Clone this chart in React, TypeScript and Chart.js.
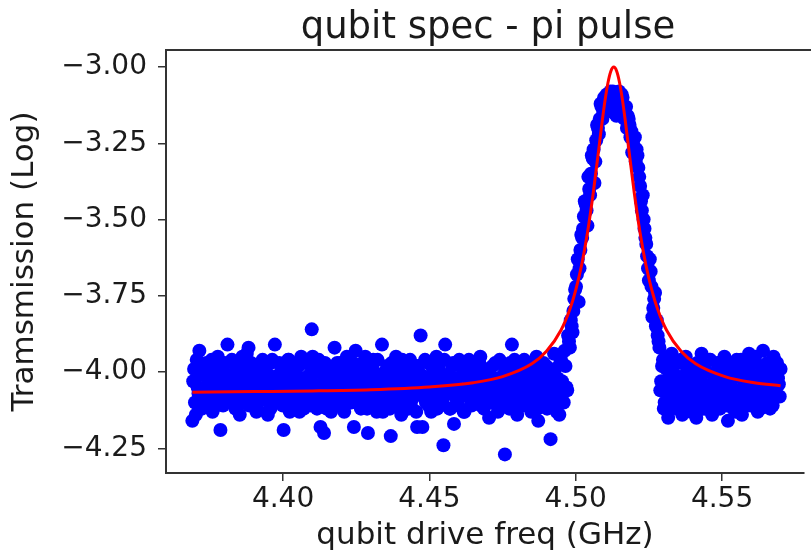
import React, { useEffect, useRef } from "react";
import { Chart, registerables } from "chart.js";

Chart.register(...registerables);

const TITLE = "qubit spec - pi pulse";
const X_LABEL = "qubit drive freq (GHz)";
const Y_LABEL = "Tramsmission (Log)";

const xTicks = [4.4, 4.45, 4.5, 4.55];
const yTicks = [-3.0, -3.25, -3.5, -3.75, -4.0, -4.25];
const xMin = 4.36;
const xMax = 4.578;
const yMin = -4.331;
const yMax = -2.944;

// measured points: baseline below the resonance (sweep A)
const baselineLow: [number, number][] = [
  [4.369, -4.16], [4.3696, -3.99], [4.3702, -4.14], [4.3708, -4.05], [4.3714, -3.93], [4.372, -4.08], [4.3726, -4.01], [4.3732, -4.11], [4.3738, -3.97], [4.3744, -4.04],
  [4.375, -4.07], [4.3756, -3.96], [4.3762, -4.12], [4.3768, -4.02], [4.3774, -4.09], [4.378, -3.98], [4.3786, -4.19], [4.3792, -4.05], [4.3798, -4.0], [4.3804, -4.1],
  [4.381, -3.91], [4.3816, -4.03], [4.3822, -4.08], [4.3828, -3.97], [4.3834, -4.06], [4.384, -4.01], [4.3846, -4.11], [4.3852, -4.14], [4.3858, -3.99], [4.3864, -4.04],
  [4.387, -4.07], [4.3876, -3.94], [4.3882, -3.92], [4.3888, -4.03], [4.3894, -4.09], [4.39, -3.98], [4.3906, -4.05], [4.3912, -4.12], [4.3918, -4.0], [4.3924, -4.06],
  [4.393, -3.96], [4.3936, -4.08], [4.3942, -4.02], [4.3948, -4.14], [4.3954, -4.04], [4.396, -3.97], [4.3966, -4.1], [4.3972, -3.91], [4.3978, -4.05], [4.3984, -4.01],
  [4.399, -4.08], [4.3996, -3.99], [4.4002, -4.19], [4.4008, -4.03], [4.4014, -4.11], [4.402, -3.96], [4.4026, -4.06], [4.4032, -4.01], [4.4038, -4.09], [4.4044, -3.98],
  [4.405, -4.04], [4.4056, -4.13], [4.4062, -3.95], [4.4068, -4.07], [4.4074, -4.02], [4.408, -4.1], [4.4086, -3.97], [4.4092, -4.05], [4.4098, -3.86], [4.4104, -4.08],
  [4.411, -4.0], [4.4116, -4.12], [4.4122, -3.96], [4.4128, -4.18], [4.4134, -4.04], [4.414, -4.2], [4.4146, -4.09], [4.4152, -3.99], [4.4158, -4.06], [4.4164, -4.13],
  [4.417, -4.02], [4.4176, -3.92], [4.4182, -4.08], [4.4188, -4.04], [4.4194, -3.97], [4.42, -4.11], [4.4206, -4.01], [4.4212, -4.07], [4.4218, -3.95], [4.4224, -4.1],
  [4.423, -4.05], [4.4236, -3.99], [4.4242, -4.18], [4.4248, -3.93], [4.4254, -4.06], [4.426, -4.02], [4.4266, -4.12], [4.4272, -3.97], [4.4278, -4.08], [4.4284, -4.03],
  [4.429, -4.2], [4.4296, -4.0], [4.4302, -4.09], [4.4308, -3.96], [4.4314, -4.05], [4.432, -4.13], [4.4326, -4.01], [4.4332, -4.07], [4.4338, -3.91], [4.4344, -4.04],
  [4.435, -4.1], [4.4356, -3.98], [4.4362, -4.06], [4.4368, -4.21], [4.4374, -4.02], [4.438, -4.11], [4.4386, -3.95], [4.4392, -4.08], [4.4398, -4.03], [4.4404, -4.14],
  [4.441, -3.99], [4.4416, -4.06], [4.4422, -4.01], [4.4428, -4.12], [4.4434, -3.96], [4.444, -4.09], [4.4446, -4.04], [4.4452, -3.98], [4.4458, -4.18], [4.4464, -4.07],
  [4.447, -3.88], [4.4476, -4.18], [4.4482, -4.02], [4.4488, -4.1], [4.4494, -3.97], [4.45, -4.05], [4.4506, -4.13], [4.4512, -4.0], [4.4518, -4.08], [4.4524, -3.95],
  [4.453, -4.06], [4.4536, -4.11], [4.4542, -4.01], [4.4548, -4.24], [4.4554, -3.91], [4.456, -4.07], [4.4566, -4.03], [4.4572, -4.12], [4.4578, -3.98], [4.4584, -4.17],
  [4.459, -4.04], [4.4596, -4.09], [4.4602, -3.96], [4.4608, -4.06], [4.4614, -4.01], [4.462, -4.13], [4.4626, -3.99], [4.4632, -4.08], [4.4638, -4.03], [4.4644, -4.11],
  [4.465, -3.97], [4.4656, -4.05], [4.4662, -4.1], [4.4668, -4.02], [4.4674, -3.95], [4.468, -4.07], [4.4686, -4.12], [4.4692, -4.0], [4.4698, -4.06], [4.4704, -4.15],
  [4.471, -4.03], [4.4716, -3.98], [4.4722, -4.09], [4.4728, -4.04], [4.4734, -4.13], [4.474, -3.96], [4.4746, -4.07], [4.4752, -4.01], [4.4758, -4.27], [4.4764, -4.1],
  [4.477, -4.05], [4.4776, -3.97], [4.4782, -3.91], [4.4788, -4.08], [4.4794, -4.02], [4.48, -4.14], [4.4806, -3.99], [4.4812, -4.06], [4.4818, -4.11], [4.4824, -3.96],
  [4.483, -4.04], [4.4836, -4.09], [4.4842, -3.98], [4.4848, -4.13], [4.4854, -4.01], [4.486, -4.07], [4.4866, -3.95], [4.4872, -4.16], [4.4878, -4.03], [4.4884, -4.1],
  [4.489, -3.97], [4.4896, -4.06], [4.4902, -4.12], [4.4908, -3.99], [4.4914, -4.22], [4.492, -4.04], [4.4926, -3.94], [4.4932, -4.09], [4.4938, -4.02], [4.4944, -4.14],
  [4.495, -3.96], [4.4956, -4.07], [4.4962, -3.93], [4.4968, -4.05],
];

// measured points: baseline below the resonance (sweep B, in between)
const baselineLowB: [number, number][] = [
  [4.3693, -4.03], [4.3699, -4.1], [4.3705, -3.96], [4.3711, -4.07], [4.3717, -4.01], [4.3723, -4.12], [4.3729, -3.98], [4.3735, -4.05], [4.3741, -4.09], [4.3747, -4.0],
  [4.3753, -4.04], [4.3759, -4.13], [4.3765, -3.99], [4.3771, -4.06], [4.3777, -3.95], [4.3783, -4.08], [4.3789, -4.02], [4.3795, -4.11], [4.3801, -3.97], [4.3807, -4.06],
  [4.3813, -4.01], [4.3819, -4.09], [4.3825, -3.96], [4.3831, -4.04], [4.3837, -4.12], [4.3843, -3.99], [4.3849, -4.07], [4.3855, -4.02], [4.3861, -3.95], [4.3867, -4.1],
  [4.3873, -4.05], [4.3879, -4.0], [4.3885, -4.11], [4.3891, -3.97], [4.3897, -4.06], [4.3903, -4.02], [4.3909, -4.13], [4.3915, -3.98], [4.3921, -4.08], [4.3927, -4.03],
  [4.3933, -4.09], [4.3939, -3.99], [4.3945, -4.05], [4.3951, -4.01], [4.3957, -4.12], [4.3963, -3.96], [4.3969, -4.07], [4.3975, -4.03], [4.3981, -4.1], [4.3987, -3.97],
  [4.3993, -4.04], [4.3999, -4.11], [4.4005, -4.0], [4.4011, -4.07], [4.4017, -3.96], [4.4023, -4.13], [4.4029, -4.03], [4.4035, -3.99], [4.4041, -4.06], [4.4047, -4.1],
  [4.4053, -3.98], [4.4059, -4.05], [4.4065, -4.02], [4.4071, -4.12], [4.4077, -3.97], [4.4083, -4.08], [4.4089, -4.01], [4.4095, -4.11], [4.4101, -3.95], [4.4107, -4.04],
  [4.4113, -4.07], [4.4119, -3.98], [4.4125, -4.05], [4.4131, -4.1], [4.4137, -4.01], [4.4143, -3.97], [4.4149, -4.12], [4.4155, -4.03], [4.4161, -4.08], [4.4167, -3.99],
  [4.4173, -4.06], [4.4179, -4.11], [4.4185, -3.97], [4.4191, -4.03], [4.4197, -4.09], [4.4203, -4.0], [4.4209, -4.13], [4.4215, -3.96], [4.4221, -4.05], [4.4227, -4.02],
  [4.4233, -4.1], [4.4239, -3.97], [4.4245, -4.04], [4.4251, -4.08], [4.4257, -3.99], [4.4263, -4.11], [4.4269, -4.02], [4.4275, -4.06], [4.4281, -3.95], [4.4287, -4.12],
  [4.4293, -4.03], [4.4299, -4.07], [4.4305, -3.98], [4.4311, -4.11], [4.4317, -4.02], [4.4323, -3.96], [4.4329, -4.09], [4.4335, -4.04], [4.4341, -4.13], [4.4347, -4.0],
  [4.4353, -4.06], [4.4359, -4.01], [4.4365, -4.12], [4.4371, -3.97], [4.4377, -4.08], [4.4383, -4.03], [4.4389, -3.99], [4.4395, -4.1], [4.4401, -4.05], [4.4407, -3.96],
  [4.4413, -4.09], [4.4419, -4.03], [4.4425, -3.97], [4.4431, -4.07], [4.4437, -4.11], [4.4443, -4.0], [4.4449, -4.05], [4.4455, -4.13], [4.4461, -3.98], [4.4467, -4.04],
  [4.4473, -4.01], [4.4479, -4.08], [4.4485, -3.96], [4.4491, -4.05], [4.4497, -4.11], [4.4503, -4.02], [4.4509, -3.98], [4.4515, -4.09], [4.4521, -4.04], [4.4527, -4.12],
  [4.4533, -3.99], [4.4539, -4.04], [4.4545, -4.1], [4.4551, -3.96], [4.4557, -4.07], [4.4563, -4.01], [4.4569, -4.12], [4.4575, -4.05], [4.4581, -3.97], [4.4587, -4.08],
  [4.4593, -4.02], [4.4599, -4.11], [4.4605, -3.98], [4.4611, -4.06], [4.4617, -4.13], [4.4623, -4.0], [4.4629, -4.05], [4.4635, -3.96], [4.4641, -4.09], [4.4647, -4.03],
  [4.4653, -4.08], [4.4659, -4.01], [4.4665, -4.04], [4.4671, -3.97], [4.4677, -4.11], [4.4683, -4.03], [4.4689, -3.99], [4.4695, -4.09], [4.4701, -4.05], [4.4707, -4.01],
  [4.4713, -4.1], [4.4719, -4.05], [4.4725, -3.97], [4.4731, -4.08], [4.4737, -4.02], [4.4743, -4.11], [4.4749, -4.04], [4.4755, -3.98], [4.4761, -4.06], [4.4767, -4.0],
  [4.4773, -4.12], [4.4779, -4.02], [4.4785, -4.07], [4.4791, -3.96], [4.4797, -4.09], [4.4803, -4.04], [4.4809, -4.0], [4.4815, -4.11], [4.4821, -3.98], [4.4827, -4.06],
  [4.4833, -4.01], [4.4839, -4.1], [4.4845, -4.05], [4.4851, -3.97], [4.4857, -4.08], [4.4863, -4.03], [4.4869, -4.12], [4.4875, -3.99], [4.4881, -4.06], [4.4887, -4.02],
  [4.4893, -4.09], [4.4899, -3.98], [4.4905, -4.04], [4.4911, -4.11], [4.4917, -4.01], [4.4923, -4.07], [4.4929, -3.99], [4.4935, -4.13], [4.4941, -4.05], [4.4947, -3.97],
  [4.4953, -4.03], [4.4959, -4.1], [4.4965, -3.98], [4.4971, -4.06],
];

// measured points: the resonance peak
const peakPoints: [number, number][] = [
  [4.4974, -3.88], [4.498, -3.92], [4.4986, -3.85], [4.4992, -3.8], [4.4998, -3.73], [4.5004, -3.68], [4.501, -3.77], [4.5016, -3.6], [4.5022, -3.56], [4.5028, -3.49],
  [4.5034, -3.45], [4.504, -3.52], [4.5046, -3.4], [4.5052, -3.35], [4.5058, -3.3], [4.5064, -3.38], [4.507, -3.24], [4.5076, -3.2], [4.5082, -3.17], [4.5088, -3.13],
  [4.5094, -3.15], [4.51, -3.11], [4.5106, -3.09], [4.5112, -3.13], [4.5118, -3.08], [4.5124, -3.1], [4.513, -3.15], [4.5136, -3.09], [4.5142, -3.12], [4.5148, -3.08],
  [4.5154, -3.14], [4.516, -3.1], [4.5166, -3.17], [4.5172, -3.13], [4.5178, -3.16], [4.5184, -3.19], [4.519, -3.21], [4.5196, -3.24], [4.5202, -3.23], [4.5208, -3.27],
  [4.5214, -3.33], [4.522, -3.39], [4.5226, -3.47], [4.5232, -3.5], [4.5238, -3.56], [4.5244, -3.62], [4.525, -3.7], [4.5256, -3.67], [4.5262, -3.82], [4.5268, -3.76],
  [4.5274, -3.85], [4.528, -3.88],
  [4.4977, -3.9], [4.4983, -3.83], [4.4989, -3.87], [4.4995, -3.76], [4.5001, -3.72], [4.5007, -3.63], [4.5013, -3.66], [4.5019, -3.55], [4.5025, -3.53], [4.5031, -3.44],
  [4.5037, -3.47], [4.5043, -3.36], [4.5049, -3.42], [4.5055, -3.29], [4.5061, -3.27], [4.5067, -3.31], [4.5073, -3.19], [4.5079, -3.22], [4.5085, -3.12], [4.5091, -3.17],
  [4.5097, -3.1], [4.5103, -3.14], [4.5109, -3.12], [4.5115, -3.1], [4.5121, -3.14], [4.5127, -3.08], [4.5133, -3.11], [4.5139, -3.16], [4.5145, -3.1], [4.5151, -3.12],
  [4.5157, -3.09], [4.5163, -3.13], [4.5169, -3.15], [4.5175, -3.2], [4.5181, -3.17], [4.5187, -3.23], [4.5193, -3.28], [4.5199, -3.26], [4.5205, -3.31], [4.5211, -3.29],
  [4.5217, -3.36], [4.5223, -3.44], [4.5229, -3.42], [4.5235, -3.53], [4.5241, -3.58], [4.5247, -3.66], [4.5253, -3.63], [4.5259, -3.72], [4.5265, -3.79], [4.5271, -3.74],
  [4.5277, -3.83], [4.5283, -3.9],
];

// measured points: baseline above the resonance
const baselineHigh: [number, number][] = [
  [4.5286, -3.92], [4.5292, -4.03], [4.5298, -3.96], [4.5304, -4.1], [4.531, -3.99], [4.5316, -4.15], [4.5322, -4.05], [4.5328, -3.94], [4.5334, -4.08], [4.534, -4.01],
  [4.5346, -4.12], [4.5352, -3.97], [4.5358, -4.06], [4.5364, -4.14], [4.537, -4.02], [4.5376, -3.95], [4.5382, -4.09], [4.5388, -4.04], [4.5394, -4.13], [4.54, -3.98],
  [4.5406, -4.07], [4.5412, -4.15], [4.5418, -4.01], [4.5424, -4.1], [4.543, -3.94], [4.5436, -4.05], [4.5442, -4.12], [4.5448, -4.0], [4.5454, -4.08], [4.546, -3.96],
  [4.5466, -4.14], [4.5472, -4.03], [4.5478, -4.09], [4.5484, -3.97], [4.549, -4.06], [4.5496, -4.11], [4.5502, -4.02], [4.5508, -3.95], [4.5514, -4.08], [4.552, -4.16],
  [4.5526, -4.04], [4.5532, -3.99], [4.5538, -4.12], [4.5544, -4.06], [4.555, -3.96], [4.5556, -4.1], [4.5562, -4.01], [4.5568, -4.14], [4.5574, -4.05], [4.558, -3.98],
  [4.5586, -4.08], [4.5592, -3.94], [4.5598, -4.11], [4.5604, -4.03], [4.561, -4.07], [4.5616, -3.97], [4.5622, -4.13], [4.5628, -4.01], [4.5634, -4.06], [4.564, -3.93],
  [4.5646, -4.09], [4.5652, -4.04], [4.5658, -3.99], [4.5664, -4.12], [4.567, -4.02], [4.5676, -3.95], [4.5682, -4.07], [4.5688, -3.97], [4.5694, -4.04], [4.57, -3.99],
  [4.5289, -4.06], [4.5295, -3.98], [4.5301, -4.12], [4.5307, -4.03], [4.5313, -3.95], [4.5319, -4.08], [4.5325, -4.01], [4.5331, -4.11], [4.5337, -3.97], [4.5343, -4.05],
  [4.5349, -4.09], [4.5355, -4.02], [4.5361, -3.96], [4.5367, -4.13], [4.5373, -4.04], [4.5379, -4.0], [4.5385, -4.1], [4.5391, -3.98], [4.5397, -4.06], [4.5403, -4.02],
  [4.5409, -4.11], [4.5415, -3.97], [4.5421, -4.07], [4.5427, -4.03], [4.5433, -4.12], [4.5439, -3.99], [4.5445, -4.05], [4.5451, -4.09], [4.5457, -3.96], [4.5463, -4.04],
  [4.5469, -4.1], [4.5475, -4.01], [4.5481, -4.07], [4.5487, -3.98], [4.5493, -4.12], [4.5499, -4.03], [4.5505, -4.06], [4.5511, -3.99], [4.5517, -4.11], [4.5523, -4.04],
  [4.5529, -3.97], [4.5535, -4.08], [4.5541, -4.02], [4.5547, -4.13], [4.5553, -4.0], [4.5559, -4.06], [4.5565, -3.96], [4.5571, -4.09], [4.5577, -4.03], [4.5583, -4.11],
  [4.5589, -3.98], [4.5595, -4.05], [4.5601, -4.01], [4.5607, -4.1], [4.5613, -3.95], [4.5619, -4.07], [4.5625, -4.02], [4.5631, -4.12], [4.5637, -3.99], [4.5643, -4.06],
  [4.5649, -4.04], [4.5655, -3.97], [4.5661, -4.09], [4.5667, -4.01], [4.5673, -4.11], [4.5679, -3.96], [4.5685, -4.05], [4.5691, -4.02], [4.5697, -4.08],
];

// fitted curve
const fitFreq = [
  4.369, 4.39, 4.41, 4.43, 4.45, 4.465, 4.475, 4.485, 4.49, 4.495, 4.498, 4.5, 4.502, 4.504, 4.506, 4.508, 4.509, 4.51, 4.511, 4.512,
  4.513, 4.514, 4.515, 4.516, 4.517, 4.518, 4.52, 4.522, 4.524, 4.526, 4.528, 4.531, 4.536, 4.541, 4.551, 4.561, 4.57,
];
const fitVal = [
  -4.066, -4.064, -4.062, -4.058, -4.049, -4.035, -4.015, -3.973, -3.932, -3.862, -3.794, -3.731, -3.65, -3.544, -3.412, -3.259, -3.181, -3.11, -3.052, -3.0135,
  -3.0, -3.0135, -3.052, -3.11, -3.181, -3.259, -3.412, -3.544, -3.65, -3.731, -3.794, -3.862, -3.932, -3.973, -4.015, -4.035, -4.045,
];

const FONT = "'DejaVu Sans', sans-serif";
const TEXT = "#1a1a1a";
const AXIS = "#333333";

export default function App() {
  const ref = useRef<HTMLCanvasElement | null>(null);

  useEffect(() => {
    if (!ref.current) return;
    const scatter = [...baselineLow, ...baselineLowB, ...peakPoints, ...baselineHigh].map(([x, y]) => ({ x, y }));
    const fit = fitFreq.map((x, i) => ({ x, y: fitVal[i] }));

    const titlePlugin = {
      id: "mplTitle",
      afterDraw(chart: any) {
        const { ctx } = chart;
        const xs = chart.scales.x;
        const cx = xs.getPixelForValue((xMin + 4.58) / 2);
        ctx.save();
        ctx.font = `37px ${FONT}`;
        ctx.fillStyle = TEXT;
        ctx.textAlign = "center";
        ctx.textBaseline = "alphabetic";
        ctx.fillText(TITLE, cx, 38);
        ctx.restore();
      },
    };
    const topSpine = {
      id: "topSpine",
      afterDraw(chart: any) {
        const { ctx, chartArea } = chart;
        ctx.save();
        ctx.strokeStyle = AXIS;
        ctx.lineWidth = 2;
        ctx.beginPath();
        ctx.moveTo(chartArea.left - 1, chartArea.top);
        ctx.lineTo(chart.width, chartArea.top);
        ctx.stroke();
        ctx.restore();
      },
    };

    const chart = new Chart(ref.current, {
      type: "scatter",
      data: {
        datasets: [
          {
            label: "fit",
            data: fit,
            showLine: true,
            borderColor: "#ff0000",
            borderWidth: 3,
            pointRadius: 0,
            cubicInterpolationMode: "monotone",
            order: 0,
          } as any,
          {
            label: "data",
            data: scatter,
            backgroundColor: "#0000ff",
            borderWidth: 0,
            pointRadius: 7,
            order: 1,
          },
        ],
      },
      options: {
        animation: false,
        responsive: false,
        devicePixelRatio: 1,
        layout: { padding: { top: 50, left: 0, right: 0, bottom: 0 } },
        plugins: { legend: { display: false }, title: { display: false }, tooltip: { enabled: false } },
        scales: {
          x: {
            type: "linear",
            min: xMin,
            max: xMax,
            afterBuildTicks: (s: any) => {
              s.ticks = xTicks.map((v) => ({ value: v }));
            },
            afterFit: (s: any) => {
              s.height = 86;
            },
            ticks: {
              callback: (v: any) => Number(v).toFixed(2),
              font: { family: FONT, size: 28 },
              color: TEXT,
              padding: 2,
              maxRotation: 0,
              autoSkip: false,
            },
            grid: { drawOnChartArea: false, drawTicks: true, tickLength: 8, color: AXIS, lineWidth: 1.5 },
            border: { display: true, color: AXIS, width: 2 },
            title: {
              display: true,
              text: X_LABEL,
              font: { family: FONT, size: 31 },
              color: TEXT,
              padding: { top: 0, bottom: 4 },
            },
          },
          y: {
            type: "linear",
            min: yMin,
            max: yMax,
            afterBuildTicks: (s: any) => {
              s.ticks = yTicks.map((v) => ({ value: v }));
            },
            afterFit: (s: any) => {
              s.width = 166;
            },
            ticks: {
              callback: (v: any) => (Number(v) < 0 ? "\u2212" : "") + Math.abs(Number(v)).toFixed(2),
              font: { family: FONT, size: 28 },
              color: TEXT,
              padding: 11,
              autoSkip: false,
            },
            grid: { drawOnChartArea: false, drawTicks: true, tickLength: 8, color: AXIS, lineWidth: 1.5 },
            border: { display: true, color: AXIS, width: 2 },
            title: {
              display: true,
              text: Y_LABEL,
              font: { family: FONT, size: 31 },
              color: TEXT,
              padding: { top: 6, bottom: 0 },
            },
          },
        },
      },
      plugins: [titlePlugin, topSpine],
    });
    return () => chart.destroy();
  }, []);

  return (
    <div style={{ position: "fixed", left: 0, top: 0, width: 811, height: 559, background: "#ffffff" }}>
      <canvas ref={ref} width={811} height={559} style={{ display: "block" }} />
    </div>
  );
}
